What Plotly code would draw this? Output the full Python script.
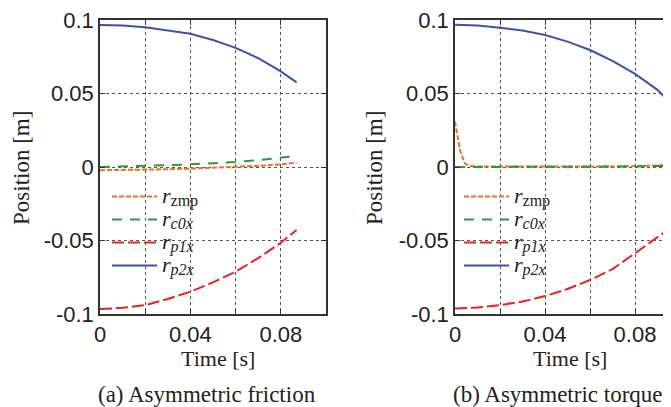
import plotly.graph_objects as go

# ---- data: (a) Asymmetric friction ----
t_a = [0, 0.01, 0.02, 0.03, 0.04, 0.05, 0.06, 0.07, 0.08, 0.087]
zmp_a = [-0.0022, -0.0021, -0.0018, -0.0015, -0.0011, -0.0006, 0.0000, 0.0008, 0.0018, 0.0030]
c0x_a = [0.0, 0.0003, 0.0007, 0.0012, 0.0018, 0.0025, 0.0034, 0.0047, 0.0061, 0.0075]
p1x_a = [-0.0966, -0.0958, -0.0940, -0.0898, -0.0848, -0.0785, -0.0712, -0.0620, -0.0515, -0.0429]
p2x_a = [0.0966, 0.0962, 0.0950, 0.0927, 0.0906, 0.0864, 0.0810, 0.0740, 0.0650, 0.0576]

# ---- data: (b) Asymmetric torque ----
t_b = [0, 0.01, 0.02, 0.03, 0.04, 0.05, 0.06, 0.07, 0.08, 0.09, 0.093]
c0x_b = [0.0, 0.0, 0.0, 0.0, 0.0, 0.0001, 0.0001, 0.0002, 0.0003, 0.0006, 0.0008]
p1x_b = [-0.0962, -0.0956, -0.0940, -0.0915, -0.0878, -0.0830, -0.0769, -0.0695, -0.0587, -0.0475, -0.0445]
p2x_b = [0.0968, 0.0962, 0.0948, 0.0928, 0.0898, 0.0853, 0.0796, 0.0722, 0.0633, 0.0525, 0.0478]
t_zmp_b = [0, 0.00075, 0.0022, 0.0044, 0.0067, 0.01, 0.03, 0.05, 0.07, 0.085, 0.093, 0.093]
zmp_b = [0.031, 0.025, 0.0114, 0.0023, 0.0007, 0.0003, 0.0002, 0.0002, 0.0003, 0.0008, 0.0012, 0.048]

series_subs = ["zmp", "<i>c0x</i>", "<i>p1x</i>", "<i>p2x</i>"]
x_tickvals = [0, 0.02, 0.04, 0.06, 0.08, 0.1]
x_ticktext = ["0", "", "0.04", "", "0.08", ""]
y_tickvals = [-0.1, -0.05, 0, 0.05, 0.1]
y_ticktext = ["-0.1", "-0.05", "0", "0.05", "0.1"]
captions = ["(a) Asymmetric friction", "(b) Asymmetric torque"]

colors = ["#F26B2A", "#2A9A3A", "#EE1C25", "#3A55A8"]
dashes = ["5px,2px", "10px,8px", "12px,4px", "solid"]

SERIF = "Liberation Serif"
SANS = "Liberation Sans"

# the page body has an 8px margin, so the figure is drawn 8px in from the corner
OFF = 8
W, H = 671 - OFF, 407 - OFF


def px(sx):
    return (sx - OFF) / W


def py(sy):
    return 1 - (sy - OFF) / H


def legend_name(sub):
    return ('<span style="font-size:22px"><i>r</i></span>'
            '<sub><span style="font-size:16px">' + sub + '</span></sub>')


fig = go.Figure()

panels = [
    ([(t_a, zmp_a), (t_a, c0x_a), (t_a, p1x_a), (t_a, p2x_a)], "x", "y", "legend"),
    ([(t_zmp_b, zmp_b), (t_b, c0x_b), (t_b, p1x_b), (t_b, p2x_b)], "x2", "y2", "legend2"),
]
for data, xa, ya, lg in panels:
    for i, (tx, vy) in enumerate(data):
        fig.add_trace(go.Scatter(
            x=tx, y=vy, mode="lines", name=legend_name(series_subs[i]),
            line=dict(color=colors[i], width=2, dash=dashes[i]),
            xaxis=xa, yaxis=ya, legend=lg))

ydom = [py(314), py(20)]
axis_common = dict(showline=True, linecolor="#333", linewidth=1.5, ticks="inside",
                   ticklen=5, tickcolor="#333", showgrid=True, gridcolor="#555",
                   griddash="dot", gridwidth=1, zeroline=False, automargin=False,
                   ticklabeloverflow="allow",
                   tickfont=dict(family=SANS, size=22, color="#222"))

legend_common = dict(xanchor="left", yanchor="top", bgcolor="rgba(0,0,0,0)",
                     tracegroupgap=0, itemwidth=45,
                     font=dict(family=SERIF, size=15.4, color="#222"))

fig.update_layout(
    template="none",
    width=W, height=H, margin=dict(l=0, r=0, t=0, b=0, autoexpand=False),
    plot_bgcolor="white", paper_bgcolor="white",
    xaxis=dict(domain=[px(100), px(326)], range=[0, 0.1], tickvals=x_tickvals,
               ticktext=x_ticktext, mirror="allticks", anchor="y", **axis_common),
    yaxis=dict(domain=ydom, range=[-0.1, 0.1], tickvals=y_tickvals,
               ticktext=y_ticktext, mirror="allticks", anchor="x", **axis_common),
    xaxis2=dict(domain=[px(455), 1.0], range=[0, 0.096], tickvals=x_tickvals,
                ticktext=x_ticktext, mirror="allticks", anchor="y2", **axis_common),
    yaxis2=dict(domain=ydom, range=[-0.1, 0.1], tickvals=y_tickvals,
                ticktext=y_ticktext, mirror=False, anchor="x2", **axis_common),
    legend=dict(x=px(107), y=py(180), **legend_common),
    legend2=dict(x=px(459), y=py(180), **legend_common),
    showlegend=True,
)

ann = []
for cx, tx in [(218, "Time [s]"), (570, "Time [s]")]:
    ann.append(dict(x=px(cx), y=py(358), xref="paper", yref="paper", text=tx,
                    showarrow=False, font=dict(family=SERIF, size=22, color="#222"),
                    xanchor="center", yanchor="middle"))
for cx in [21, 374]:
    ann.append(dict(x=px(cx), y=py(168), xref="paper", yref="paper", text="Position [m]",
                    showarrow=False, font=dict(family=SERIF, size=23, color="#222"),
                    textangle=-90, xanchor="center", yanchor="middle"))
for cx, tx in [(207, captions[0]), (558, captions[1])]:
    ann.append(dict(x=px(cx), y=py(394), xref="paper", yref="paper", text=tx,
                    showarrow=False, font=dict(family=SERIF, size=23, color="#222"),
                    xanchor="center", yanchor="middle"))
fig.update_layout(annotations=ann)

fig.write_html("out.html")
